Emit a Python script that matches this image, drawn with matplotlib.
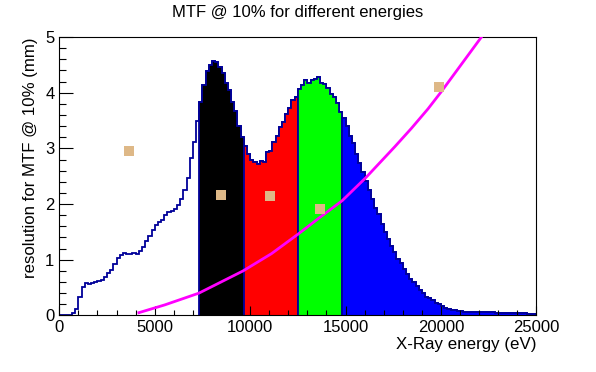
import numpy as np
import matplotlib
matplotlib.use("Agg")
import matplotlib.pyplot as plt
from matplotlib.ticker import MultipleLocator

plt.rcParams['font.family'] = ['Liberation Sans', 'DejaVu Sans']

# histogram: 150 bins from 0 to 25000 eV
e_min, e_max, n_bins = 0, 25000, 150
resolution = [
    0.00, 0.00, 0.00, 0.01, 0.04, 0.11, 0.33, 0.51, 0.58, 0.56,
    0.58, 0.60, 0.61, 0.64, 0.69, 0.76, 0.81, 0.93, 1.03, 1.08,
    1.12, 1.10, 1.10, 1.12, 1.10, 1.16, 1.23, 1.33, 1.43, 1.54,
    1.63, 1.68, 1.72, 1.80, 1.85, 1.87, 1.92, 1.98, 2.09, 2.26,
    2.46, 2.82, 3.12, 3.49, 3.83, 4.14, 4.39, 4.50, 4.57, 4.56,
    4.47, 4.36, 4.17, 4.05, 3.84, 3.67, 3.40, 3.20, 3.04, 2.90,
    2.79, 2.76, 2.72, 2.78, 2.76, 2.93, 2.96, 3.11, 3.22, 3.38,
    3.48, 3.62, 3.72, 3.87, 3.93, 4.06, 4.14, 4.22, 4.18, 4.23,
    4.24, 4.28, 4.18, 4.16, 4.08, 3.97, 3.92, 3.81, 3.66, 3.55,
    3.40, 3.22, 3.09, 2.90, 2.73, 2.57, 2.42, 2.25, 2.10, 1.93,
    1.82, 1.64, 1.49, 1.38, 1.24, 1.14, 1.02, 0.94, 0.83, 0.75,
    0.66, 0.60, 0.52, 0.45, 0.41, 0.34, 0.31, 0.27, 0.23, 0.21,
    0.17, 0.14, 0.12, 0.10, 0.09, 0.08, 0.08, 0.07, 0.07, 0.07,
    0.07, 0.055, 0.055, 0.055, 0.055, 0.055, 0.055, 0.037, 0.037, 0.037,
    0.037, 0.037, 0.037, 0.037, 0.037, 0.037, 0.037, 0.02, 0.02, 0.02,
]

# coloured energy bands (first bin, last bin+1) and fill colours
band_bins = [(44, 58), (58, 75), (75, 89), (89, 150)]
band_colors = ['#000000', '#ff0000', '#00ff00', '#0000ff']

# measured points (squares)
pt_energy = [3650, 8470, 11030, 13650, 19880]
pt_res = [2.95, 2.17, 2.14, 1.91, 4.11]

# magenta curve
curve_energy = [4170, 5530, 7310, 9630, 11120, 12510, 13650, 14820,
                16050, 17580, 18450, 19320, 20020, 21070, 22120]
curve_res = [0.05, 0.19, 0.40, 0.80, 1.11, 1.46, 1.76, 2.06,
             2.47, 3.03, 3.36, 3.71, 4.02, 4.51, 5.00]

edges = np.linspace(e_min, e_max, n_bins + 1)
vals = np.array(resolution)
outline = '#000099'

fig = plt.figure(figsize=(5.96, 3.72), dpi=100)
ax = fig.add_axes([0.0995, 0.152, 0.8005, 0.7485])

ax.stairs(vals, edges, color=outline, lw=1.3, baseline=None)
for (b0, b1), c in zip(band_bins, band_colors):
    ax.stairs(vals[b0:b1], edges[b0:b1 + 1], fill=True, facecolor=c,
              edgecolor=outline, lw=1.3)

ax.plot(curve_energy, curve_res, color='#ff00ff', lw=2, zorder=4)
ax.plot(pt_energy, pt_res, 's', color='#deb887', ms=7.3, mew=0, zorder=5)

ax.set_xlim(e_min, e_max)
ax.set_ylim(0, 5)
ax.xaxis.set_major_locator(MultipleLocator(5000))
ax.xaxis.set_minor_locator(MultipleLocator(1000))
ax.yaxis.set_major_locator(MultipleLocator(1))
ax.yaxis.set_minor_locator(MultipleLocator(0.2))
ax.tick_params(axis='x', which='major', direction='in', length=6.3, width=0.8,
               labelsize=12, pad=3.5)
ax.tick_params(axis='x', which='minor', direction='in', length=3.6, width=0.8)
ax.tick_params(axis='y', which='major', direction='in', length=10, width=0.8,
               labelsize=12, pad=3.5)
ax.tick_params(axis='y', which='minor', direction='in', length=5, width=0.8)
for s in ax.spines.values():
    s.set_linewidth(0.8)

ax.set_title('MTF @ 10% for different energies', fontsize=12, pad=14.5)
ax.set_xlabel('X-Ray energy (eV)', fontsize=12.2, loc='right', labelpad=1.5)
ax.set_ylabel('resolution for MTF @ 10% (mm)', fontsize=12.1, loc='top', labelpad=5)

fig.savefig('out.png', dpi=100)
